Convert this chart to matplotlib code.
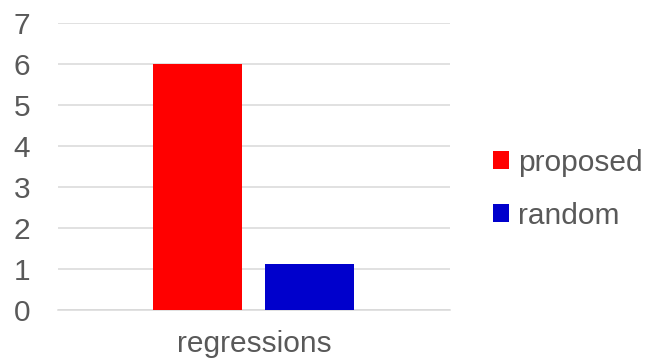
import matplotlib.pyplot as plt
from matplotlib.patches import Patch

plt.rcParams['font.family'] = ['Liberation Sans', 'DejaVu Sans']

categories = ["regressions"]
series_names = ["proposed", "random"]
series_values = [6.0, 1.12]
series_colors = ["#ff0000", "#0000cc"]
y_ticks = [0, 1, 2, 3, 4, 5, 6, 7]

TEXT = "#595959"
FS = 21.5

fig = plt.figure(figsize=(6.51, 3.64), dpi=100)
ax = fig.add_axes([0.089, 0.148, 0.602, 0.789])

bar_w = 0.227
offsets = [-0.144, 0.143]
for name, val, col, off in zip(series_names, series_values, series_colors, offsets):
    ax.bar(off, val, width=bar_w, color=col, zorder=2, label=name)

ax.set_xlim(-0.5, 0.5)
ax.set_ylim(0, 7)
ax.set_yticks(y_ticks)
ax.set_yticklabels([str(t) for t in y_ticks])
ax.set_xticks([0])
ax.set_xticklabels(categories)
ax.yaxis.grid(True, color="#d9d9d9", linewidth=1.1, zorder=0)
ax.tick_params(axis="y", length=0, pad=20, labelsize=FS, labelcolor=TEXT)
ax.tick_params(axis="x", length=0, pad=14, labelsize=FS, labelcolor=TEXT)
for s in ax.spines.values():
    s.set_visible(False)
ax.axhline(0, color="#d9d9d9", linewidth=1.1, zorder=1, clip_on=False)

handles = [Patch(facecolor=c, edgecolor="none") for c in series_colors]
leg = fig.legend(handles, series_names, loc="center left",
                 bbox_to_anchor=(0.734, 0.48), frameon=False,
                 fontsize=FS, handlelength=0.55, handleheight=0.55,
                 handletextpad=0.3, labelspacing=0.85, borderpad=0)
for t in leg.get_texts():
    t.set_color(TEXT)

fig.savefig("out.png", dpi=100)
